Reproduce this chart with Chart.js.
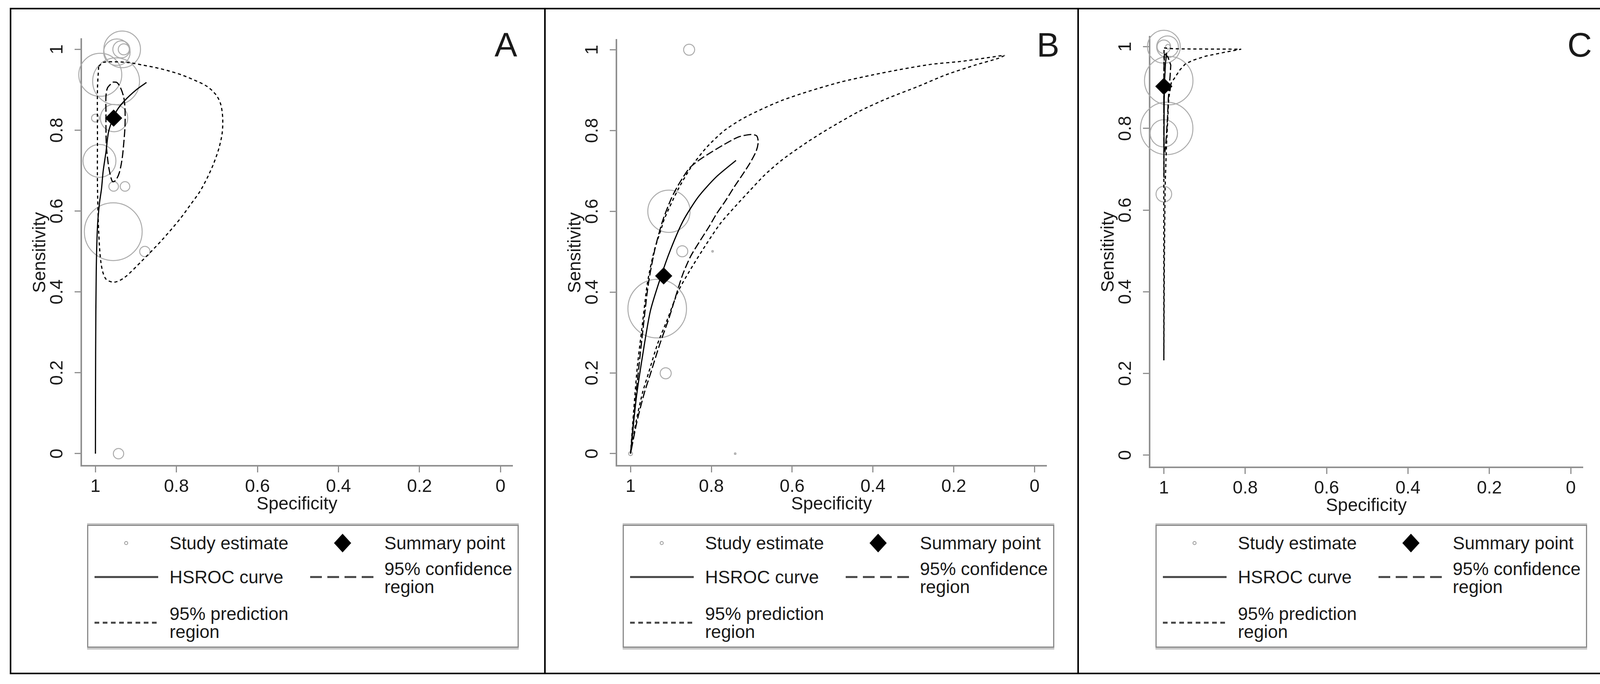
<!DOCTYPE html>
<html>
<head>
<meta charset="utf-8">
<script src="https://cdn.jsdelivr.net/npm/chart.js@4.4.1/dist/chart.umd.min.js"></script>
<style>
html, body { margin: 0; padding: 0; background: #fff; }
body { width: 4151px; height: 1752px; position: relative; overflow: hidden;
       font-family: "Liberation Sans", Arial, sans-serif; color: #1a1a1a; }
.frame { position: absolute; left: 25px; top: 20px; width: 4111px; height: 1707px;
         border: 4px solid #000; box-sizing: border-box; }
.divider { position: absolute; top: 20px; width: 4px; height: 1707px; background: #000; }
canvas { position: absolute; }
.tag { position: absolute; width: 100px; font-size: 87px; line-height: 87px; text-align: center; }
.legend { position: absolute; width: 1105px; height: 315px; box-sizing: border-box; background: #fff;
          border: 3px solid #8a8a8a; box-shadow: 0 -4px 0 #c8c8c8, 0 5px 0 #c8c8c8;
          font-size: 46px; line-height: 46px; }
.legend div { position: absolute; white-space: nowrap; }
.legend svg { position: absolute; left: 0; top: 0; overflow: visible; }
</style>
</head>
<body>
<div class="frame"></div>
<div class="divider" style="left:1393px"></div>
<div class="divider" style="left:2758px"></div>
<div id="page"></div>
<script>
// axis ticks shared by the three panels
var tickValues = [0, 0.2, 0.4, 0.6, 0.8, 1]
var tickLabels = ['0', '0.2', '0.4', '0.6', '0.8', '1']
var seriesNames = ['Study estimate', 'Summary point', 'HSROC curve', '95% confidence region', '95% prediction region']

// panel A
var aStudySpec = [0.934, 0.947, 0.936, 0.930, 0.988, 0.949, 0.954, 1.000, 0.990, 0.955, 0.927, 0.956, 0.878, 0.943]
var aStudySens = [1.000, 0.993, 1.000, 1.000, 0.937, 0.921, 0.830, 0.830, 0.724, 0.661, 0.661, 0.549, 0.500, 0.000]
var aStudyWeight = [88, 46, 19, 8, 121, 144, 49, 4, 71, 6, 6, 219, 7, 7]
var aSummary = [0.955, 0.830]
var aCurveSpec = [1.000, 0.9995, 0.998, 0.995, 0.990, 0.985, 0.981, 0.974, 0.968, 0.960, 0.947, 0.928, 0.899, 0.874]
var aCurveSens = [0.000, 0.250, 0.450, 0.560, 0.620, 0.655, 0.698, 0.746, 0.794, 0.820, 0.849, 0.873, 0.900, 0.918]
var aConfSpec = [0.957, 0.947, 0.938, 0.930, 0.927, 0.927, 0.930, 0.934, 0.941, 0.950, 0.958, 0.966, 0.970, 0.973, 0.974, 0.974, 0.974, 0.970, 0.957]
var aConfSens = [0.919, 0.918, 0.905, 0.881, 0.852, 0.810, 0.769, 0.730, 0.695, 0.676, 0.673, 0.702, 0.730, 0.762, 0.801, 0.842, 0.884, 0.905, 0.919]
var aPredSpec = [0.992, 0.979, 0.947, 0.915, 0.883, 0.852, 0.820, 0.788, 0.756, 0.724, 0.702, 0.691, 0.686, 0.687, 0.695, 0.708, 0.724, 0.743, 0.766, 0.790, 0.836, 0.887, 0.929, 0.954, 0.975, 0.986, 0.992, 0.995, 0.995, 0.995, 0.992]
var aPredSens = [0.958, 0.968, 0.969, 0.967, 0.961, 0.955, 0.947, 0.937, 0.924, 0.908, 0.887, 0.865, 0.833, 0.794, 0.756, 0.718, 0.682, 0.647, 0.615, 0.582, 0.528, 0.475, 0.435, 0.424, 0.433, 0.470, 0.550, 0.667, 0.784, 0.902, 0.958]

// panel B
var bStudySpec = [0.855, 0.905, 0.872, 0.797, 0.934, 0.913, 1.000, 0.741]
var bStudySens = [1.000, 0.600, 0.501, 0.501, 0.359, 0.199, 0.000, 0.000]
var bStudyWeight = [8, 117, 8, 0.16, 225, 8, 1, 0.16]
var bSummary = [0.918, 0.440]
var bCurveSpec = [1.000, 0.986, 0.970, 0.951, 0.926, 0.901, 0.870, 0.832, 0.788, 0.739]
var bCurveSens = [0.000, 0.136, 0.244, 0.353, 0.435, 0.505, 0.576, 0.636, 0.685, 0.726]
var bConfSpec = [1.000, 0.991, 0.981, 0.969, 0.956, 0.940, 0.921, 0.899, 0.880, 0.855, 0.834, 0.812, 0.769, 0.733, 0.704, 0.688, 0.684, 0.689, 0.704, 0.722, 0.743, 0.765, 0.787, 0.805, 0.826, 0.851, 0.870, 0.885, 0.905, 0.928, 0.950, 0.966, 0.984, 1.000]
var bConfSens = [0.000, 0.100, 0.200, 0.310, 0.420, 0.505, 0.575, 0.632, 0.668, 0.706, 0.724, 0.739, 0.765, 0.784, 0.790, 0.787, 0.771, 0.749, 0.720, 0.692, 0.661, 0.626, 0.594, 0.563, 0.530, 0.489, 0.446, 0.400, 0.335, 0.270, 0.200, 0.150, 0.080, 0.000]
var bPredSpec = [1.000, 0.992, 0.983, 0.970, 0.958, 0.942, 0.923, 0.916, 0.884, 0.851, 0.812, 0.769, 0.725, 0.675, 0.624, 0.559, 0.480, 0.399, 0.327, 0.255, 0.183, 0.111, 0.075, 0.089, 0.147, 0.219, 0.291, 0.363, 0.435, 0.507, 0.560, 0.624, 0.668, 0.704, 0.740, 0.776, 0.809, 0.851, 0.882, 0.907, 0.933, 0.955, 0.970, 0.986, 1.000]
var bPredSens = [0.000, 0.109, 0.217, 0.326, 0.424, 0.500, 0.560, 0.582, 0.651, 0.708, 0.758, 0.799, 0.828, 0.853, 0.875, 0.897, 0.920, 0.938, 0.952, 0.964, 0.971, 0.981, 0.986, 0.979, 0.962, 0.938, 0.908, 0.880, 0.847, 0.806, 0.773, 0.728, 0.690, 0.652, 0.613, 0.572, 0.524, 0.457, 0.402, 0.337, 0.272, 0.201, 0.152, 0.081, 0.000]

// panel C
var cStudySpec = [1.000, 0.991, 1.000, 0.990, 0.988, 0.993, 1.000, 1.000]
var cStudySens = [1.000, 1.000, 1.000, 1.000, 0.917, 0.800, 0.788, 0.639]
var cStudyWeight = [71, 31, 12, 1.4, 154, 180, 49, 16]
var cSummary = [1.000, 0.903]
var cCurveSpec = [1.000, 0.9997, 0.9992, 0.998, 0.996, 0.993]
var cCurveSens = [0.680, 0.780, 0.870, 0.920, 0.960, 0.985]
var cConfSpec = [0.9985, 0.990, 0.983, 0.9845, 0.989, 0.991, 0.994, 0.997, 0.9995, 1.000, 1.000, 0.9997, 0.9985]
var cConfSens = [0.983, 0.975, 0.955, 0.930, 0.873, 0.826, 0.779, 0.745, 0.750, 0.800, 0.873, 0.950, 0.983]
var cPredSpec = [0.9995, 0.975, 0.930, 0.880, 0.810, 0.853, 0.897, 0.928, 0.947, 0.960, 0.972, 0.982, 0.988, 0.991, 0.994, 0.997, 0.999, 1.000, 1.000, 1.000, 1.000, 0.9995]
var cPredSens = [0.997, 0.995, 0.9945, 0.9943, 0.994, 0.986, 0.977, 0.967, 0.958, 0.944, 0.926, 0.911, 0.873, 0.810, 0.747, 0.653, 0.450, 0.232, 0.450, 0.700, 0.900, 0.997]

var panels = [
    {tag: 'A', study: [aStudySpec, aStudySens, aStudyWeight], summary: aSummary, curve: [aCurveSpec, aCurveSens],
     conf: [aConfSpec, aConfSens], pred: [aPredSpec, aPredSens], tension: 0.3,
     canvasLeft: 29, area: {l: 208, r: 1340, t: 77, b: 1193}, tagX: 1295, legendLeft: 223},
    {tag: 'B', study: [bStudySpec, bStudySens, bStudyWeight], summary: bSummary, curve: [bCurveSpec, bCurveSens],
     conf: [bConfSpec, bConfSens], pred: [bPredSpec, bPredSens], tension: 0.25,
     canvasLeft: 1397, area: {l: 1578, r: 2708, t: 78, b: 1193}, tagX: 2683, legendLeft: 1594},
    {tag: 'C', study: [cStudySpec, cStudySens, cStudyWeight], summary: cSummary, curve: [cCurveSpec, cCurveSens],
     conf: [cConfSpec, cConfSens], pred: [cPredSpec, cPredSens], tension: 0,
     canvasLeft: 2762, area: {l: 2943, r: 4075, t: 79, b: 1197}, tagX: 4044, legendLeft: 2958}
]

var CANVAS_TOP = 24, CANVAS_W = 1360, CANVAS_H = 1310
var YAXIS_W = 132, XAXIS_H = 127
var AXIS_GREY = '#909090'
var FONT = {family: '"Liberation Sans", Arial, sans-serif', size: 46, lineHeight: 1.2}

function pts(xs, ys) {
    return xs.map(function (x, i) { return {x: x, y: ys[i]} })
}

function lineSet(label, pair, dash, tension) {
    return {
        label: label, data: pts(pair[0], pair[1]), showLine: true, pointRadius: 0,
        borderColor: '#000', borderWidth: 3, borderDash: dash, tension: tension, fill: false
    }
}

function axis(title, reverse, rotation, fixSize) {
    return {
        type: 'linear', reverse: reverse, min: -0.03, max: reverse ? 1.035 : 1.025,
        afterBuildTicks: function (scale) {
            scale.ticks = tickValues.map(function (v) { return {value: v} })
        },
        afterFit: fixSize,
        ticks: {
            autoSkip: false, minRotation: rotation, maxRotation: rotation, crossAlign: rotation ? 'center' : 'near',
            padding: rotation ? 12 : 10, color: '#1a1a1a', font: FONT,
            callback: function (value) { return tickLabels[tickValues.indexOf(value)] }
        },
        grid: {drawOnChartArea: false, drawTicks: true, tickLength: 17, tickWidth: 3, tickColor: AXIS_GREY},
        border: {display: true, color: AXIS_GREY, width: 4},
        title: {display: true, text: title, color: '#1a1a1a', font: FONT, padding: {top: 0, bottom: 0}}
    }
}

var page = document.getElementById('page')

panels.forEach(function (p) {
    var canvas = document.createElement('canvas')
    canvas.width = CANVAS_W
    canvas.height = CANVAS_H
    canvas.style.left = p.canvasLeft + 'px'
    canvas.style.top = CANVAS_TOP + 'px'
    canvas.style.width = CANVAS_W + 'px'
    canvas.style.height = CANVAS_H + 'px'
    page.appendChild(canvas)

    var studies = p.study[0].map(function (x, i) {
        return {x: x, y: p.study[1][i], r: 5 * Math.sqrt(p.study[2][i])}
    })

    new Chart(canvas, {
        type: 'scatter',
        data: {
            datasets: [
                {label: seriesNames[1], data: [{x: p.summary[0], y: p.summary[1]}], pointStyle: 'rectRot',
                 pointRadius: 22, backgroundColor: '#000', borderColor: '#000', borderWidth: 0, clip: false},
                lineSet(seriesNames[2], p.curve, [], p.tension),
                lineSet(seriesNames[3], p.conf, [20, 7], p.tension),
                lineSet(seriesNames[4], p.pred, [8, 7], p.tension),
                {type: 'bubble', label: seriesNames[0], data: studies, backgroundColor: 'rgba(0,0,0,0)',
                 borderColor: '#ababab', borderWidth: 2.5, clip: false}
            ]
        },
        options: {
            responsive: false, animation: false, devicePixelRatio: 1, events: [],
            layout: {padding: {
                left: p.area.l - p.canvasLeft - YAXIS_W,
                right: p.canvasLeft + CANVAS_W - p.area.r,
                top: p.area.t - CANVAS_TOP,
                bottom: CANVAS_TOP + CANVAS_H - p.area.b - XAXIS_H
            }},
            plugins: {legend: {display: false}, tooltip: {enabled: false}},
            scales: {
                x: axis('Specificity', true, 0, function (s) { s.height = XAXIS_H }),
                y: axis('Sensitivity', false, 90, function (s) { s.width = YAXIS_W })
            }
        }
    })

    // panel letter
    var tag = document.createElement('div')
    tag.className = 'tag'
    tag.textContent = p.tag
    tag.style.left = (p.tagX - 50) + 'px'
    tag.style.top = '71px'
    page.appendChild(tag)

    // legend box
    var lg = document.createElement('div')
    lg.className = 'legend'
    lg.style.left = p.legendLeft + 'px'
    lg.style.top = '1344px'
    lg.innerHTML =
        '<svg width="1099" height="309">' +
        '<circle cx="97" cy="44" r="4" fill="none" stroke="#9a9a9a" stroke-width="2"/>' +
        '<polygon points="651,20 673,44 651,68 629,44" fill="#000"/>' +
        '<line x1="16" y1="131" x2="179" y2="131" stroke="#444" stroke-width="5"/>' +
        '<line x1="568" y1="131" x2="730" y2="131" stroke="#444" stroke-width="5" stroke-dasharray="30 14"/>' +
        '<line x1="16" y1="248" x2="179" y2="248" stroke="#444" stroke-width="5" stroke-dasharray="12 9"/>' +
        '</svg>' +
        '<div style="left:208px;top:21px">' + seriesNames[0] + '</div>' +
        '<div style="left:758px;top:21px">' + seriesNames[1] + '</div>' +
        '<div style="left:208px;top:108px">' + seriesNames[2] + '</div>' +
        '<div style="left:758px;top:87px">' + seriesNames[3].replace(' region', '<br>region') + '</div>' +
        '<div style="left:208px;top:202px">' + seriesNames[4].replace(' region', '<br>region') + '</div>'
    page.appendChild(lg)
})
</script>
</body>
</html>
